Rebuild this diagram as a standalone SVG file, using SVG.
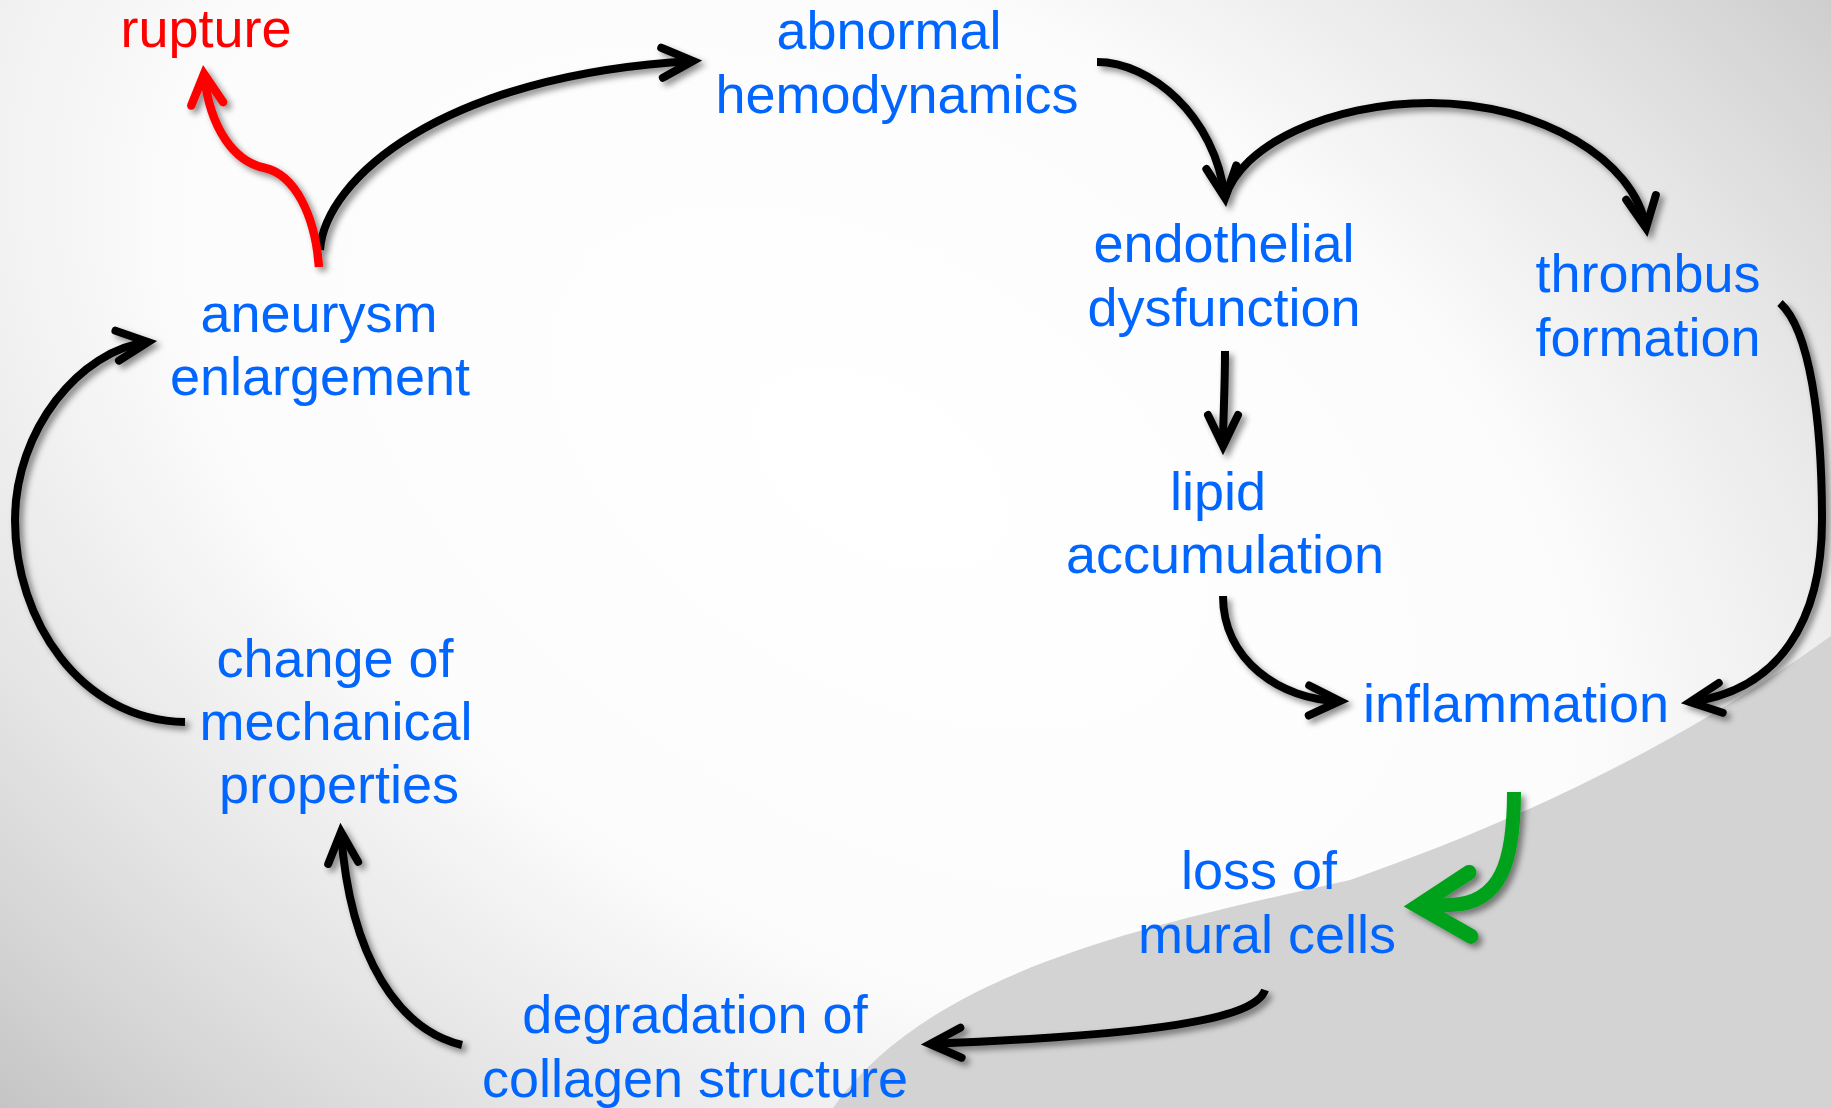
<svg xmlns="http://www.w3.org/2000/svg" width="1831" height="1108" viewBox="0 0 1831 1108">
  <defs>
    <radialGradient id="bg" gradientUnits="userSpaceOnUse" cx="0" cy="0" r="1" gradientTransform="translate(880,470) rotate(31) scale(1820,1080)">
      <stop offset="0" stop-color="#ffffff"/>
      <stop offset="0.42" stop-color="#fcfcfc"/>
      <stop offset="0.66" stop-color="#e6e6e6"/>
      <stop offset="0.84" stop-color="#d3d3d3"/>
      <stop offset="1" stop-color="#bfbfbf"/>
    </radialGradient>
    <filter id="shadow" x="-20%" y="-20%" width="140%" height="140%">
      <feDropShadow dx="4" dy="4" stdDeviation="3" flood-color="#000" flood-opacity="0.45"/>
    </filter>
    <marker id="headK" markerUnits="userSpaceOnUse" orient="auto" refX="0" refY="0" markerWidth="80" markerHeight="80" viewBox="-40 -40 80 80" overflow="visible">
      <path d="M-31,-15 L0,0 L-31,15" fill="none" stroke="#000" stroke-width="8" stroke-linecap="round" stroke-linejoin="miter"/>
    </marker>
    <marker id="headR" markerUnits="userSpaceOnUse" orient="auto" refX="0" refY="0" markerWidth="80" markerHeight="80" viewBox="-40 -40 80 80" overflow="visible">
      <path d="M-30,-16 L0,0 L-30,16" fill="none" stroke="#ff0000" stroke-width="8.5" stroke-linecap="round" stroke-linejoin="miter"/>
    </marker>
    <marker id="headG" markerUnits="userSpaceOnUse" orient="auto" refX="0" refY="0" markerWidth="160" markerHeight="160" viewBox="-80 -80 160 160" overflow="visible">
      <path d="M-52,-32 L0,0 L-52,32" fill="none" stroke="#00a21a" stroke-width="15" stroke-linecap="round" stroke-linejoin="miter"/>
    </marker>
    <style>
      .lbl { font-family: "Liberation Sans", Arial, sans-serif; font-size: 54px; fill: #0066ff; text-anchor: middle; }
      .red { fill: #ff0000; }
      .k { fill: none; stroke: #000; stroke-width: 8; marker-end: url(#headK); }
      .r { fill: none; stroke: #ff0000; stroke-width: 8.5; marker-end: url(#headR); }
      .g { fill: none; stroke: #00a21a; stroke-width: 14; marker-end: url(#headG); }
    </style>
  </defs>

  <rect x="0" y="0" width="1831" height="1108" fill="url(#bg)"/>
  <path d="M1831,636 C1700,730 1550,810 1350,880 C1150,925 930,970 833,1108 L1831,1108 Z" fill="#d3d3d3"/>

  <g id="connectors" filter="url(#shadow)">
    <path class="k" d="M320,250 C325,180 440,75 693,61"/>
    <path class="r" d="M319,267 C315,215 295,175 265,168 C235,162 210,130 204,74"/>
    <path class="k" d="M1097,62 C1150,62 1215,115 1225,198"/>
    <path class="k" d="M1225,198 C1240,145 1330,103 1430,103 C1540,103 1635,160 1646,228"/>
    <path class="k" d="M1225,351 C1225,390 1223,420 1223,446"/>
    <path class="k" d="M1223,596 C1223,660 1280,700 1340,701"/>
    <path class="k" d="M1780,303 C1810,330 1822,420 1822,520 C1822,620 1780,690 1690,702"/>
    <path class="g" d="M1514,792 C1514,860 1502,904 1450,905 L1418,906"/>
    <path class="k" d="M1265,990 C1255,1020 1150,1035 930,1044"/>
    <path class="k" d="M462,1045 C400,1030 350,960 341,832"/>
    <path class="k" d="M185,722 C80,720 15,620 15,520 C15,430 80,350 148,342"/>
  </g>

  <g id="rupture"><text class="lbl red" x="206" y="47">rupture</text></g>
  <g id="abnormal-hemodynamics">
    <text class="lbl" x="889" y="49">abnormal</text>
    <text class="lbl" x="897" y="113">hemodynamics</text>
  </g>
  <g id="endothelial-dysfunction">
    <text class="lbl" x="1224" y="262">endothelial</text>
    <text class="lbl" x="1224" y="326">dysfunction</text>
  </g>
  <g id="thrombus-formation">
    <text class="lbl" x="1648" y="292">thrombus</text>
    <text class="lbl" x="1648" y="356">formation</text>
  </g>
  <g id="aneurysm-enlargement">
    <text class="lbl" x="319" y="332">aneurysm</text>
    <text class="lbl" x="320" y="395">enlargement</text>
  </g>
  <g id="lipid-accumulation">
    <text class="lbl" x="1218" y="510">lipid</text>
    <text class="lbl" x="1225" y="573">accumulation</text>
  </g>
  <g id="inflammation"><text class="lbl" x="1516" y="722">inflammation</text></g>
  <g id="change-of-mechanical-properties">
    <text class="lbl" x="335" y="677">change of</text>
    <text class="lbl" x="336" y="740">mechanical</text>
    <text class="lbl" x="339" y="803">properties</text>
  </g>
  <g id="loss-of-mural-cells">
    <text class="lbl" x="1259" y="889">loss of</text>
    <text class="lbl" x="1267" y="953">mural cells</text>
  </g>
  <g id="degradation-of-collagen-structure">
    <text class="lbl" x="695" y="1033">degradation of</text>
    <text class="lbl" x="695" y="1097">collagen structure</text>
  </g>
</svg>
